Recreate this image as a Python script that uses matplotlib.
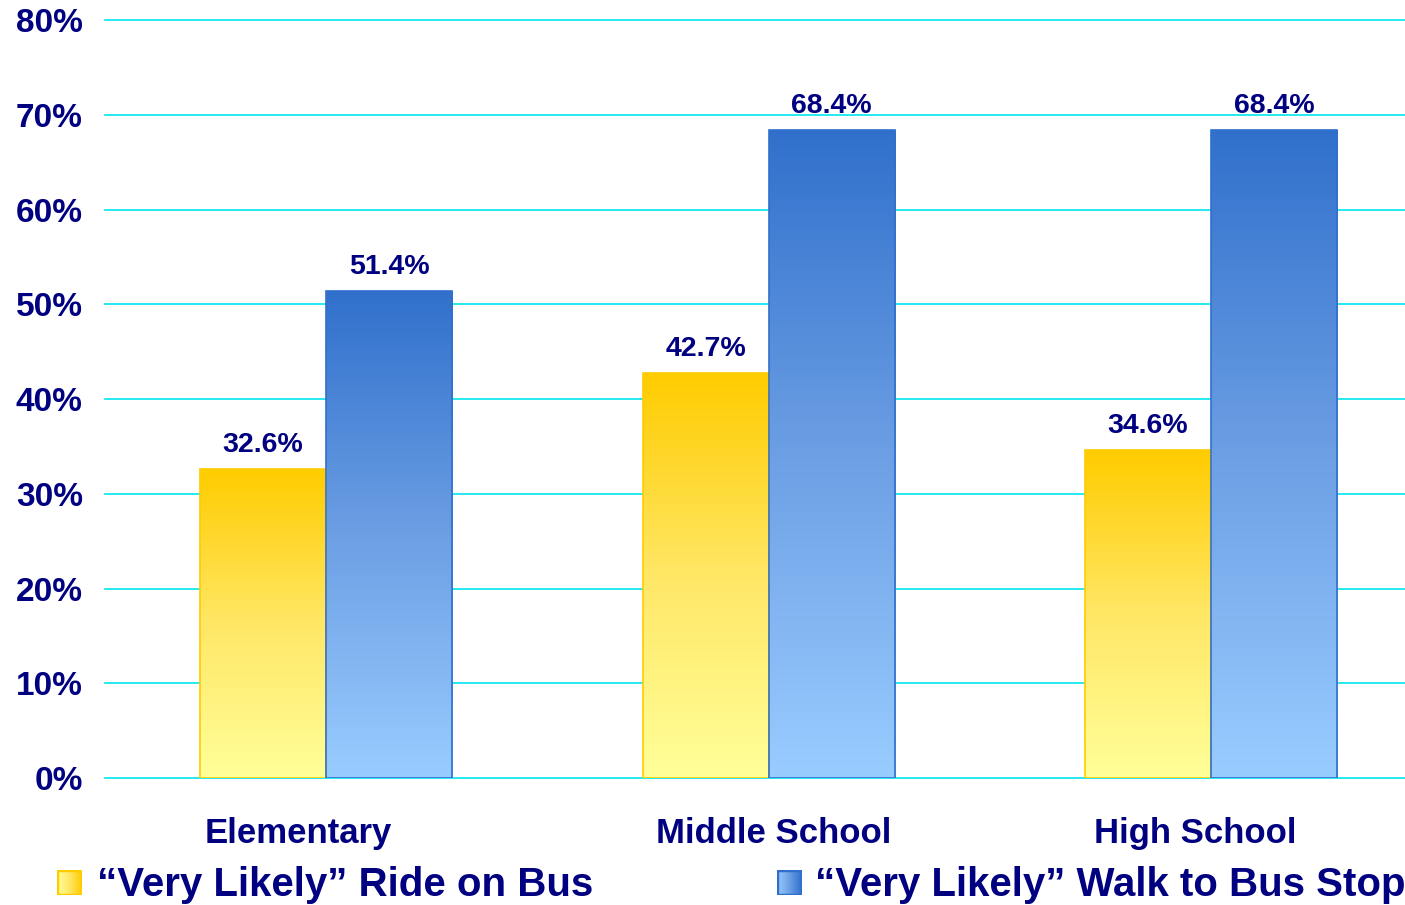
import numpy as np
import matplotlib.pyplot as plt
import matplotlib.transforms as mtransforms
from matplotlib.colors import LinearSegmentedColormap
from matplotlib.patches import Rectangle

# data
categories = ["Elementary", "Middle School", "High School"]
ride_bus = [32.6, 42.7, 34.6]
walk_stop = [51.4, 68.4, 68.4]
series_names = ["\u201cVery Likely\u201d Ride on Bus", "\u201cVery Likely\u201d Walk to Bus Stop"]
yticks = [0, 10, 20, 30, 40, 50, 60, 70, 80]

navy = "#000080"
plt.rcParams['font.family'] = ['Liberation Sans', 'DejaVu Sans']
plt.rcParams['font.weight'] = 'bold'

yellow_cmap = LinearSegmentedColormap.from_list("yel", ["#FFFF99", "#FFE766", "#FFCC00"])
blue_cmap = LinearSegmentedColormap.from_list("blu", ["#99CCFF", "#6C9FE4", "#3070CC"])
grad = np.linspace(0, 1, 256).reshape(-1, 1)

fig = plt.figure(figsize=(14.05, 9.05), dpi=100)
ax = fig.add_axes([0.0747, 0.1403, 0.9253, 0.8376])

x = np.arange(len(categories))
width = 0.285


def gradient_bars(xs, vals, cmap, edge):
    bars = ax.bar(xs, vals, width, color="none", edgecolor=edge, linewidth=1.2, zorder=3)
    for b in bars:
        x0, y0 = b.get_x(), b.get_y()
        im = ax.imshow(grad, cmap=cmap, origin="lower", aspect="auto",
                       extent=[x0, x0 + b.get_width(), y0, y0 + b.get_height()], zorder=2)
        im.set_clip_path(b)
    return bars


b1 = gradient_bars(x - width / 2, ride_bus, yellow_cmap, "#FFCC00")
b2 = gradient_bars(x + width / 2, walk_stop, blue_cmap, "#3070CC")
ax.set_xlim(-0.5, 2.438)
ax.set_ylim(0, 80)

for bars, vals in [(b1, ride_bus), (b2, walk_stop)]:
    for b, v in zip(bars, vals):
        ax.text(b.get_x() + b.get_width() / 2, v + 1.2, f"{v:.1f}%", ha="center", va="bottom",
                color=navy, fontsize=20.5, fontweight="bold")

ax.set_yticks(yticks)
ax.set_yticklabels([f"{t}%" for t in yticks], color=navy, fontsize=24, fontweight="bold")
# y labels sit a little below their gridlines in the original
shift = mtransforms.ScaledTranslation(0, -4 / 100, fig.dpi_scale_trans)
for lbl in ax.get_yticklabels():
    lbl.set_transform(lbl.get_transform() + shift)
# category labels sit slightly off the group centres in the original
label_shift = [-0.064, 0.012, -0.037]
ax.set_xticks(x + np.array(label_shift))
ax.set_xticklabels(categories, color=navy, fontsize=25, fontweight="bold")
ax.tick_params(axis="y", length=0, pad=16)
ax.tick_params(axis="x", length=0, pad=28)
ax.grid(axis="y", color="#00E5EE", linewidth=1.2, zorder=0)
for gl in ax.get_ygridlines():
    gl.set_clip_on(False)
ax.set_axisbelow(True)
for s in ax.spines.values():
    s.set_visible(False)

# legend with gradient squares
for lx, tx, cmap, edge, name in [(57, 97, yellow_cmap, "#FFCC00", series_names[0]),
                                 (777, 815, blue_cmap, "#3070CC", series_names[1])]:
    lax = fig.add_axes([lx / 1405, 1 - 895 / 905, 25 / 1405, 25 / 905])
    lax.imshow(grad.T, cmap=cmap, aspect="auto", extent=[0, 1, 0, 1])
    lax.add_patch(Rectangle((0, 0), 1, 1, fill=False, edgecolor=edge, linewidth=2.5))
    lax.set_xlim(0, 1)
    lax.set_ylim(0, 1)
    lax.axis("off")
    fig.text(tx / 1405, 1 - 885 / 905, name, color=navy, fontsize=29, fontweight="bold", va="center")

fig.savefig("out.png", dpi=100)
